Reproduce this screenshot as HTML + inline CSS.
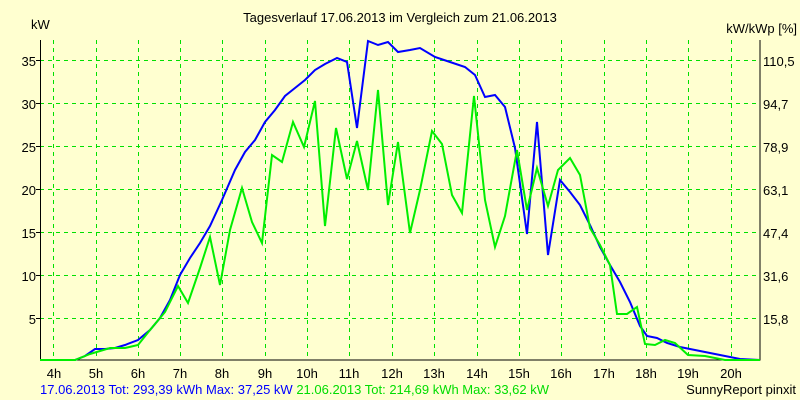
<!DOCTYPE html><html><head><style>body{margin:0;background:#ffffcc}svg{display:block}text{font-family:"Liberation Sans",sans-serif;font-size:13px}</style></head><body>
<svg width="800" height="400" xmlns="http://www.w3.org/2000/svg">
<rect width="800" height="400" fill="#ffffd0"/>
<text x="400" y="22" text-anchor="middle" font-size="12">Tagesverlauf 17.06.2013 im Vergleich zum 21.06.2013</text>
<text x="31" y="29" font-size="12">kW</text>
<text x="797" y="33" text-anchor="end" font-size="12">kW/kWp [%]</text>
<g stroke="#00e000" stroke-dasharray="4,4" stroke-width="1">
<line x1="40" y1="60.5" x2="760" y2="60.5"/><line x1="40" y1="103.5" x2="760" y2="103.5"/><line x1="40" y1="146.5" x2="760" y2="146.5"/><line x1="40" y1="189.5" x2="760" y2="189.5"/><line x1="40" y1="232.5" x2="760" y2="232.5"/><line x1="40" y1="275.5" x2="760" y2="275.5"/><line x1="40" y1="318.5" x2="760" y2="318.5"/>
<line x1="53.5" y1="40" x2="53.5" y2="360"/><line x1="96.5" y1="40" x2="96.5" y2="360"/><line x1="138.5" y1="40" x2="138.5" y2="360"/><line x1="180.5" y1="40" x2="180.5" y2="360"/><line x1="222.5" y1="40" x2="222.5" y2="360"/><line x1="265.5" y1="40" x2="265.5" y2="360"/><line x1="307.5" y1="40" x2="307.5" y2="360"/><line x1="349.5" y1="40" x2="349.5" y2="360"/><line x1="392.5" y1="40" x2="392.5" y2="360"/><line x1="434.5" y1="40" x2="434.5" y2="360"/><line x1="477.5" y1="40" x2="477.5" y2="360"/><line x1="519.5" y1="40" x2="519.5" y2="360"/><line x1="561.5" y1="40" x2="561.5" y2="360"/><line x1="604.5" y1="40" x2="604.5" y2="360"/><line x1="646.5" y1="40" x2="646.5" y2="360"/><line x1="688.5" y1="40" x2="688.5" y2="360"/><line x1="731.5" y1="40" x2="731.5" y2="360"/>
</g>
<path d="M40.5 40V360H760V40" fill="none" stroke="#000"/>
<g stroke="#000"><line x1="36" y1="60.5" x2="40" y2="60.5"/><line x1="36" y1="103.5" x2="40" y2="103.5"/><line x1="36" y1="146.5" x2="40" y2="146.5"/><line x1="36" y1="189.5" x2="40" y2="189.5"/><line x1="36" y1="232.5" x2="40" y2="232.5"/><line x1="36" y1="275.5" x2="40" y2="275.5"/><line x1="36" y1="318.5" x2="40" y2="318.5"/></g>
<g text-anchor="end"><text x="36" y="66">35</text><text x="36" y="109">30</text><text x="36" y="152">25</text><text x="36" y="195">20</text><text x="36" y="238">15</text><text x="36" y="281">10</text><text x="36" y="324">5</text></g>
<g><text x="763" y="66">110,5</text><text x="763" y="109">94,7</text><text x="763" y="152">78,9</text><text x="763" y="195">63,1</text><text x="763" y="238">47,4</text><text x="763" y="281">31,6</text><text x="763" y="324">15,8</text></g>
<g text-anchor="middle"><text x="54" y="378">4h</text><text x="96" y="378">5h</text><text x="138" y="378">6h</text><text x="180" y="378">7h</text><text x="222" y="378">8h</text><text x="265" y="378">9h</text><text x="307" y="378">10h</text><text x="349" y="378">11h</text><text x="392" y="378">12h</text><text x="434" y="378">13h</text><text x="477" y="378">14h</text><text x="519" y="378">15h</text><text x="561" y="378">16h</text><text x="604" y="378">17h</text><text x="646" y="378">18h</text><text x="688" y="378">19h</text><text x="731" y="378">20h</text></g>
<polyline fill="none" stroke="#0000ff" stroke-width="2" points="40,360 75,360 85,356 95,349 105,349 115,348 125,345 138,340 150,330 160,318 170,300 180,275 190,258 200,243 210,226 222,200 235,170 245,152 255,140 265,122 275,110 285,96 295,88 305,80 315,70 325,64 337,58 347,62 357,128 368,41 378,45 388,42 398,52 410,50 420,48 435,57 450,62 465,67 475,75 485,97 495,95 505,107 515,148 527,234 537,122 548,255 560,180 570,192 580,205 590,225 600,247 610,265 620,282 630,302 640,326 647,336 657,338 667,343 680,347 700,351 720,355 740,359 760,360"/>
<polyline fill="none" stroke="#00ee00" stroke-width="2" points="40,360 75,360 90,354 110,348 125,348 138,345 150,330 165,312 178,286 188,303 200,268 210,237 220,285 230,230 242,188 252,222 262,243 272,155 282,162 293,122 304,147 315,101 325,226 336,128 347,179 357,141 368,190 378,90 388,205 398,142 410,233 420,190 432,131 442,144 452,195 462,213 474,96 485,200 495,247 505,216 517,150 527,210 537,168 548,206 558,170 570,158 580,175 590,228 600,245 610,265 617,314 627,314 637,307 645,344 655,345 665,340 675,343 688,355 705,356 725,360 760,360"/>
<text x="40" y="394" font-size="11" fill="#0000ff">17.06.2013 Tot: 293,39 kWh Max: 37,25 kW <tspan fill="#00dd00">21.06.2013 Tot: 214,69 kWh Max: 33,62 kW</tspan></text>
<text x="796" y="394" font-size="11" text-anchor="end">SunnyReport pinxit</text>
</svg></body></html>
